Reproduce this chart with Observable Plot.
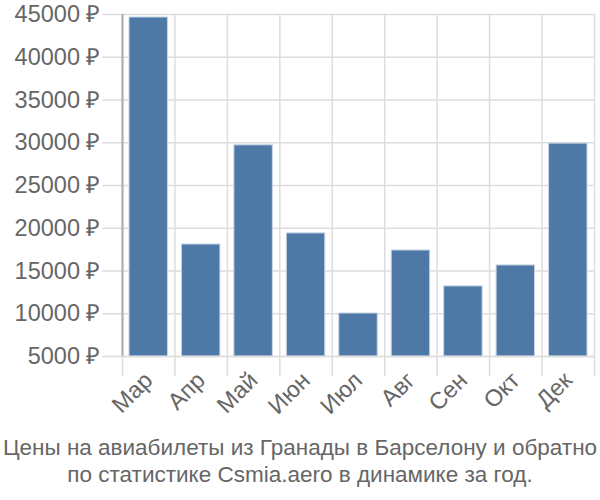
<!DOCTYPE html>
<html>
<head>
<meta charset="utf-8">
<script src="https://cdn.jsdelivr.net/npm/d3@7"></script>
<script src="https://cdn.jsdelivr.net/npm/@observablehq/plot@0.6"></script>
<style>
  html, body { margin: 0; padding: 0; background: #fff; }
  #chart { width: 600px; }
  .caption {
    font-family: "Liberation Sans", Arial, sans-serif;
    font-size: 22.5px;
    color: #666;
    text-align: center;
    line-height: 27px;
    margin-top: 9px;
    white-space: nowrap;
  }
</style>
</head>
<body>
<div id="chart"></div>
<div class="caption">Цены на авиабилеты из Гранады в Барселону и обратно<br>по статистике Csmia.aero в динамике за год.</div>
<script>
const months = ["Мар", "Апр", "Май", "Июн", "Июл", "Авг", "Сен", "Окт", "Дек"];
const prices = [44650, 18100, 29700, 19400, 10030, 17400, 13200, 15650, 29900];
const yTicks = [5000, 10000, 15000, 20000, 25000, 30000, 35000, 40000, 45000];
const yMin = 5000, yMax = 45000;

const data = months.map((m, i) => ({month: m, i, price: prices[i]}));
const bounds = d3.range(months.length + 1);
const centers = months.map((m, i) => i + 0.5);

const plot = Plot.plot({
  width: 600,
  height: 425,
  marginTop: 14,
  marginLeft: 122,
  marginRight: 6,
  marginBottom: 69,
  style: {fontFamily: "Liberation Sans, Arial, sans-serif", fontSize: "23px", color: "#666", background: "#fff"},
  x: {domain: [0, months.length]},
  y: {domain: [yMin, yMax]},
  marks: [
    Plot.gridY(yTicks, {stroke: "#ddd", strokeOpacity: 1, strokeWidth: 1.5}),
    Plot.gridX(bounds, {stroke: "#ddd", strokeOpacity: 1, strokeWidth: 1.5}),
    Plot.axisY(yTicks, {tickSize: 20, tickPadding: 2, stroke: "#ddd", strokeWidth: 1.5, tickFormat: d => d + " ₽", fill: "#666", fontSize: 23.5, label: null}),
    Plot.axisX(bounds, {tickSize: 20, stroke: "#ddd", strokeWidth: 1.5, tickFormat: () => "", label: null}),
    Plot.axisX(centers, {tickSize: 0, tickPadding: 20, tickFormat: d => months[Math.floor(d)], tickRotate: -45, fill: "#666", fontSize: 23.5, label: null}),
    Plot.rectY(data, {x1: "i", x2: d => d.i + 1, y1: yMin, y2: "price", fill: "#4e79a7", stroke: "#c8d4e3", strokeWidth: 1, insetLeft: 7, insetRight: 7}),
    Plot.ruleX([0], {y1: yMin, y2: yMax, stroke: "#aaa", strokeWidth: 2}),
    Plot.ruleY([yMin], {stroke: "#ddd", strokeWidth: 1.5})
  ]
});
document.getElementById("chart").appendChild(plot);
</script>
</body>
</html>
